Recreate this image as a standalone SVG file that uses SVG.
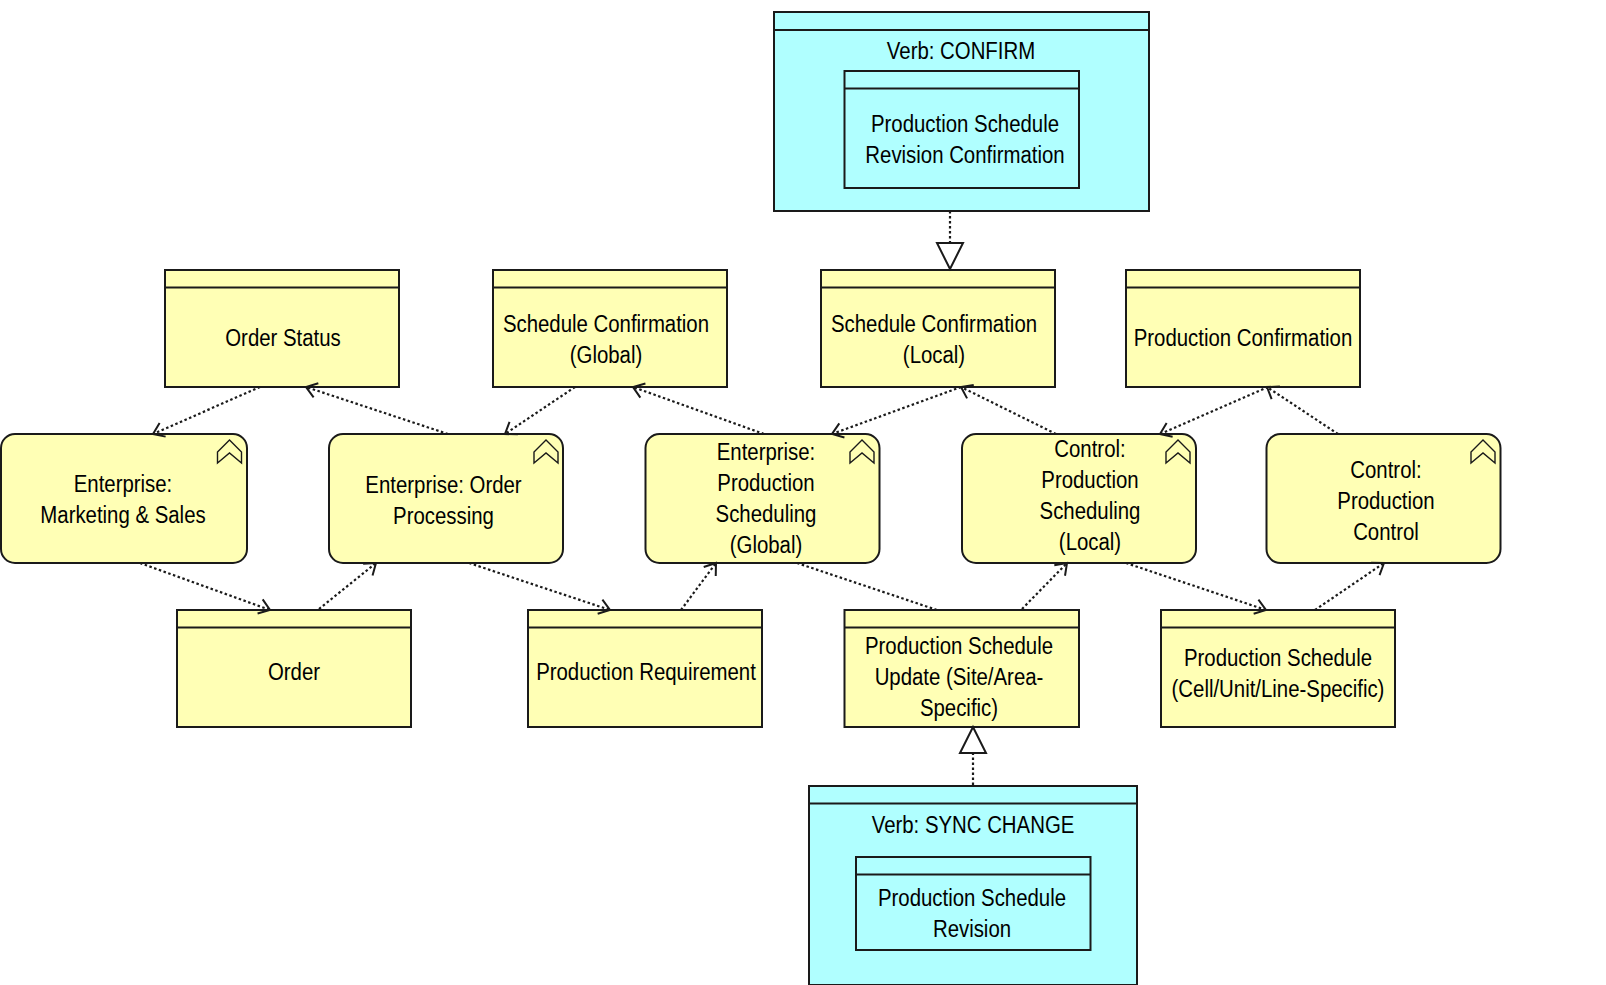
<svg xmlns="http://www.w3.org/2000/svg" width="1606" height="985" viewBox="0 0 1606 985">
  <style>
    .y { fill: #ffffb5; stroke: #1a1a1a; stroke-width: 2; }
    .c { fill: #b0ffff; stroke: #1a1a1a; stroke-width: 2; }
    .div { stroke: #1a1a1a; stroke-width: 2; fill: none; }
    .icon { fill: none; stroke: #1a1a1a; stroke-width: 1.4; }
    .flow { fill: none; stroke: #1a1a1a; stroke-width: 2.2; stroke-dasharray: 2.5 2.5; }
    .tri { fill: #fff; stroke: #1a1a1a; stroke-width: 2; }
    text { font-family: "Liberation Sans", Arial, sans-serif; font-size: 23.3px; fill: #000; text-anchor: middle;
           transform-box: fill-box; transform-origin: center; transform: scale(.875, 1); }
  </style>
  <defs>
    <marker id="open" markerUnits="userSpaceOnUse" markerWidth="26" markerHeight="26" refX="20" refY="13" orient="auto">
      <path d="M9.500 5.500 L20 13 L9.500 20.500" fill="none" stroke="#1a1a1a" stroke-width="2"/>
    </marker>
    <path id="chev" class="icon" d="M-12 12 L0 0 L12 12 V23 L0 13 L-12 23 Z"/>
  </defs>

  <g id="verb-confirm">
    <rect class="c" x="774" y="12" width="375" height="199"/>
    <line class="div" x1="774" y1="30" x2="1149" y2="30"/>
    <text x="961" y="59">Verb: CONFIRM</text>
  </g>
  <g id="revision-confirmation">
    <rect class="c" x="844.500" y="71" width="234.500" height="117"/>
    <line class="div" x1="844.500" y1="88.500" x2="1079" y2="88.500"/>
    <text x="965" y="132.500">Production Schedule</text>
    <text x="965" y="163.500">Revision Confirmation</text>
  </g>

  <g id="order-status">
    <rect class="y" x="165" y="270" width="234" height="117"/>
    <line class="div" x1="165" y1="287.500" x2="399" y2="287.500"/>
    <text x="283" y="346">Order Status</text>
  </g>
  <g id="schedule-confirmation-global">
    <rect class="y" x="493" y="270" width="234" height="117"/>
    <line class="div" x1="493" y1="287.500" x2="727" y2="287.500"/>
    <text x="606" y="332">Schedule Confirmation</text>
    <text x="606" y="363">(Global)</text>
  </g>
  <g id="schedule-confirmation-local">
    <rect class="y" x="821" y="270" width="234" height="117"/>
    <line class="div" x1="821" y1="287.500" x2="1055" y2="287.500"/>
    <text x="934" y="332">Schedule Confirmation</text>
    <text x="934" y="363">(Local)</text>
  </g>
  <g id="production-confirmation">
    <rect class="y" x="1126" y="270" width="234" height="117"/>
    <line class="div" x1="1126" y1="287.500" x2="1360" y2="287.500"/>
    <text x="1243" y="346">Production Confirmation</text>
  </g>

  <g id="enterprise-marketing-sales">
    <rect class="y" x="1" y="434" width="246" height="129" rx="14"/>
    <use href="#chev" x="229.500" y="440"/>
    <text x="123" y="492">Enterprise:</text>
    <text x="123" y="523">Marketing &amp; Sales</text>
  </g>
  <g id="enterprise-order-processing">
    <rect class="y" x="329" y="434" width="234" height="129" rx="14"/>
    <use href="#chev" x="546" y="440"/>
    <text x="443.500" y="493">Enterprise: Order</text>
    <text x="443.500" y="524">Processing</text>
  </g>
  <g id="enterprise-production-scheduling">
    <rect class="y" x="645.500" y="434" width="234" height="129" rx="14"/>
    <use href="#chev" x="862" y="440"/>
    <text x="766" y="460">Enterprise:</text>
    <text x="766" y="491">Production</text>
    <text x="766" y="522">Scheduling</text>
    <text x="766" y="553">(Global)</text>
  </g>
  <g id="control-production-scheduling">
    <rect class="y" x="962" y="434" width="234" height="129" rx="14"/>
    <use href="#chev" x="1178" y="440"/>
    <text x="1090" y="457.500">Control:</text>
    <text x="1090" y="488.500">Production</text>
    <text x="1090" y="519.500">Scheduling</text>
    <text x="1090" y="550.500">(Local)</text>
  </g>
  <g id="control-production-control">
    <rect class="y" x="1266.500" y="434" width="234" height="129" rx="14"/>
    <use href="#chev" x="1483" y="440"/>
    <text x="1386" y="478">Control:</text>
    <text x="1386" y="509">Production</text>
    <text x="1386" y="540">Control</text>
  </g>

  <g id="order">
    <rect class="y" x="177" y="610" width="234" height="117"/>
    <line class="div" x1="177" y1="627.500" x2="411" y2="627.500"/>
    <text x="294" y="680">Order</text>
  </g>
  <g id="production-requirement">
    <rect class="y" x="528" y="610" width="234" height="117"/>
    <line class="div" x1="528" y1="627.500" x2="762" y2="627.500"/>
    <text x="646" y="680">Production Requirement</text>
  </g>
  <g id="production-schedule-update">
    <rect class="y" x="844.500" y="610" width="234.500" height="117"/>
    <line class="div" x1="844.500" y1="627.500" x2="1079" y2="627.500"/>
    <text x="959" y="654">Production Schedule</text>
    <text x="959" y="685">Update (Site/Area-</text>
    <text x="959" y="716">Specific)</text>
  </g>
  <g id="production-schedule-cell">
    <rect class="y" x="1161" y="610" width="234" height="117"/>
    <line class="div" x1="1161" y1="627.500" x2="1395" y2="627.500"/>
    <text x="1278" y="666">Production Schedule</text>
    <text x="1278" y="697">(Cell/Unit/Line-Specific)</text>
  </g>

  <g id="verb-sync-change">
    <rect class="c" x="809" y="786" width="328" height="199"/>
    <line class="div" x1="809" y1="803.500" x2="1137" y2="803.500"/>
    <text x="973" y="833">Verb: SYNC CHANGE</text>
  </g>
  <g id="production-schedule-revision">
    <rect class="c" x="856" y="857" width="234.500" height="93"/>
    <line class="div" x1="856" y1="874.500" x2="1090.500" y2="874.500"/>
    <text x="972" y="906">Production Schedule</text>
    <text x="972" y="937">Revision</text>
  </g>

  <!-- connectors sit above the nodes so their heads stay whole at the borders -->
  <g id="connectors">
    <line class="flow" x1="260" y1="387" x2="153" y2="434" marker-end="url(#open)"/>
    <line class="flow" x1="448" y1="434" x2="306" y2="387" marker-end="url(#open)"/>
    <line class="flow" x1="140" y1="563" x2="270" y2="610" marker-end="url(#open)"/>
    <line class="flow" x1="319" y1="609" x2="376" y2="563" marker-end="url(#open)"/>
    <line class="flow" x1="575" y1="387" x2="505" y2="434" marker-end="url(#open)"/>
    <line class="flow" x1="764" y1="434" x2="633" y2="387" marker-end="url(#open)"/>
    <line class="flow" x1="469" y1="563" x2="610" y2="610" marker-end="url(#open)"/>
    <line class="flow" x1="681" y1="610" x2="716" y2="563" marker-end="url(#open)"/>
    <line class="flow" x1="961" y1="387" x2="832" y2="434" marker-end="url(#open)"/>
    <line class="flow" x1="1056" y1="434" x2="961" y2="387" marker-end="url(#open)"/>
    <line class="flow" x1="797" y1="563" x2="937" y2="610"/>
    <line class="flow" x1="1022" y1="609" x2="1067" y2="563" marker-end="url(#open)"/>
    <line class="flow" x1="1126" y1="563" x2="1266" y2="610" marker-end="url(#open)"/>
    <line class="flow" x1="1315" y1="610" x2="1384" y2="563" marker-end="url(#open)"/>
    <line class="flow" x1="1268" y1="387" x2="1160" y2="434" marker-end="url(#open)"/>
    <line class="flow" x1="1338" y1="434" x2="1267" y2="387" marker-end="url(#open)"/>
    <line class="flow" x1="950" y1="211" x2="950" y2="243"/>
    <polygon class="tri" points="937,243 963,243 950,269"/>
    <line class="flow" x1="973" y1="785" x2="973" y2="753"/>
    <polygon class="tri" points="960,753 986,753 973,727"/>
  </g>
</svg>
